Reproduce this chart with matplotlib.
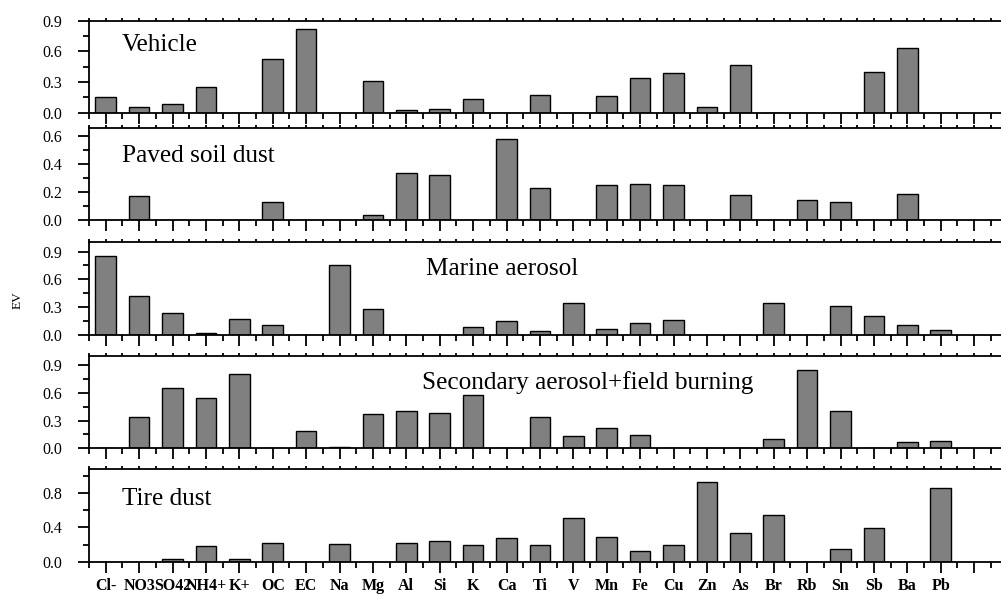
import numpy as np
import matplotlib
matplotlib.use("Agg")
import matplotlib.pyplot as plt
from matplotlib.ticker import MultipleLocator, FixedLocator, FormatStrFormatter

plt.rcParams['font.family'] = ['Liberation Serif', 'DejaVu Serif']

species = ['Cl-', 'NO3', 'SO42', 'NH4+', 'K+', 'OC', 'EC', 'Na', 'Mg', 'Al',
           'Si', 'K', 'Ca', 'Ti', 'V', 'Mn', 'Fe', 'Cu', 'Zn', 'As', 'Br',
           'Rb', 'Sn', 'Sb', 'Ba', 'Pb']

vehicle = [0.15, 0.052, 0.085, 0.25, 0.0, 0.53, 0.815, 0.0, 0.307, 0.026,
           0.036, 0.137, 0.0, 0.176, 0.0, 0.166, 0.336, 0.385, 0.052, 0.47,
           0.0, 0.0, 0.0, 0.40, 0.63, 0.0]
paved_soil = [0.0, 0.174, 0.0, 0.0, 0.0, 0.126, 0.0, 0.0, 0.033, 0.338,
              0.317, 0.0, 0.576, 0.226, 0.0, 0.248, 0.257, 0.248, 0.0, 0.176,
              0.0, 0.143, 0.126, 0.0, 0.186, 0.0]
marine = [0.854, 0.418, 0.232, 0.018, 0.168, 0.11, 0.0, 0.76, 0.279, 0.0,
          0.0, 0.082, 0.15, 0.039, 0.35, 0.061, 0.132, 0.157, 0.0, 0.0,
          0.35, 0.0, 0.318, 0.21, 0.11, 0.05]
secondary = [0.0, 0.338, 0.652, 0.54, 0.803, 0.0, 0.19, 0.01, 0.37, 0.40,
             0.38, 0.573, 0.0, 0.338, 0.13, 0.216, 0.14, 0.0, 0.0, 0.0,
             0.097, 0.853, 0.40, 0.0, 0.065, 0.079]
tire = [0.0, 0.0, 0.027, 0.183, 0.027, 0.215, 0.0, 0.21, 0.0, 0.222,
        0.242, 0.2, 0.281, 0.2, 0.507, 0.293, 0.125, 0.191, 0.93, 0.332,
        0.547, 0.0, 0.144, 0.39, 0.0, 0.859]

# name, values, y-axis top, major tick step, minor tick step
panels = [
    ('Vehicle', vehicle, 0.9, 0.3, 0.15),
    ('Paved soil dust', paved_soil, 0.655, 0.2, 0.1),
    ('Marine aerosol', marine, 1.0, 0.3, 0.15),
    ('Secondary aerosol+field burning', secondary, 1.0, 0.3, 0.15),
    ('Tire dust', tire, 1.08, 0.4, 0.2),
]
# panel title anchor, in pixels
label_pos = [(122, 45), (122, 156), (426, 269), (422, 383), (122, 499)]
# panel frames (top, bottom) in pixels
frames = [(20.7, 112.7), (128, 220), (242.3, 335), (356, 448.3), (469, 561.7)]

W, H = 1001, 598
fig = plt.figure(figsize=(W / 100, H / 100), dpi=100)

x = np.arange(len(species))
left_px = 89
step_px = 33.4
x0 = -0.5
x1 = x0 + (W - left_px) / step_px

for i, ((name, vals, ytop, maj, mnr), (tp, bt)) in enumerate(zip(panels, frames)):
    ax = fig.add_axes([left_px / W, 1 - bt / H, (W - left_px) / W, (bt - tp) / H])
    ax.bar(x, vals, width=0.62, color='#808080', edgecolor='black', linewidth=1.0)
    ax.set_xlim(x0, x1)
    ax.set_ylim(0, ytop)
    for s in ['left', 'bottom', 'top']:
        ax.spines[s].set_linewidth(1.3)
    ax.spines['right'].set_visible(False)

    ax.xaxis.set_major_locator(FixedLocator(np.arange(0, 27)))
    ax.xaxis.set_minor_locator(FixedLocator(np.arange(-0.5, 27, 1.0)))
    ax.yaxis.set_major_locator(MultipleLocator(maj))
    ax.yaxis.set_minor_locator(MultipleLocator(mnr))
    ax.yaxis.set_major_formatter(FormatStrFormatter('%.1f'))

    ax.tick_params(axis='y', which='major', direction='out', length=8, width=1.3,
                   labelsize=11.5, pad=11)
    ax.tick_params(axis='y', which='minor', direction='out', length=4.5, width=1.3)
    ax.tick_params(axis='x', which='major', direction='out', length=8, width=1.3,
                   top=True)
    ax.tick_params(axis='x', which='minor', direction='out', length=4.5, width=1.3,
                   top=True)
    # short ticks along the upper frame
    for t in ax.xaxis.get_major_ticks() + ax.xaxis.get_minor_ticks():
        t.tick2line.set_markersize(2)

    if i == len(panels) - 1:
        ax.set_xticklabels(species + [''], fontweight='bold', fontsize=11.5)
    else:
        ax.set_xticklabels([])

    lx, ly = label_pos[i]
    fig.text(lx / W, 1 - ly / H, name, fontsize=18.2, ha='left', va='center')

fig.text(18 / W, 1 - 300 / H, 'EV', rotation=90, fontsize=9.5,
         ha='center', va='center')

fig.savefig('out.png', dpi=100)
